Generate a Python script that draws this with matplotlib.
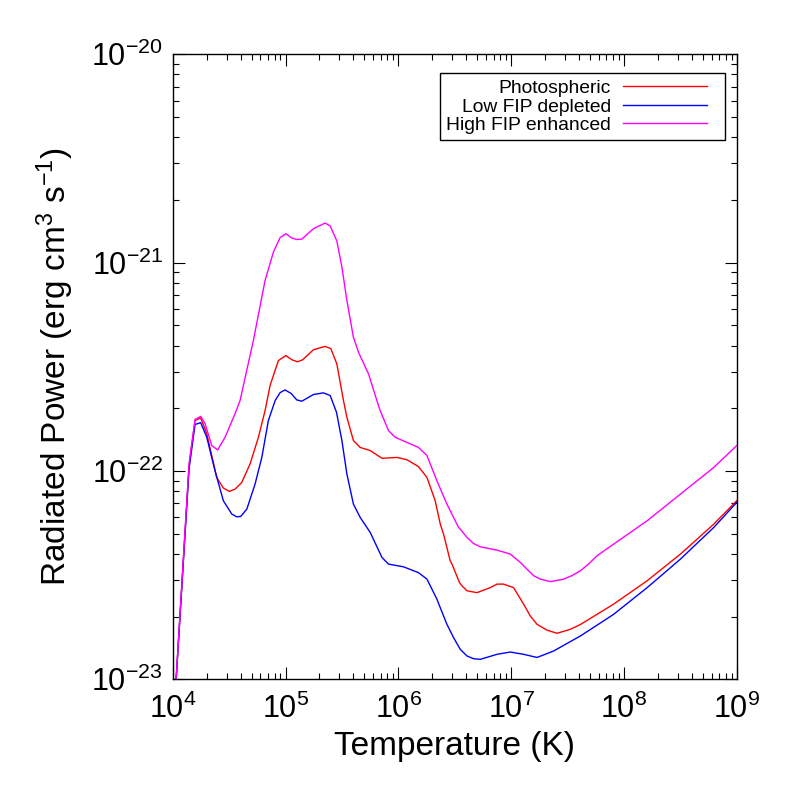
import numpy as np
import matplotlib
matplotlib.use("Agg")
import matplotlib.pyplot as plt
from matplotlib.ticker import FixedLocator, LogLocator, NullFormatter
from matplotlib.legend_handler import HandlerLine2D

plt.rcParams['font.family'] = ['Liberation Sans', 'DejaVu Sans']
plt.rcParams['mathtext.fontset'] = 'custom'
plt.rcParams['mathtext.rm'] = 'Liberation Sans'
plt.rcParams['mathtext.it'] = 'Liberation Sans:italic'
plt.rcParams['mathtext.bf'] = 'Liberation Sans:bold'

# log10 temperature / log10 radiated power
logT_phot = [4.00, 4.145, 4.198, 4.248, 4.302, 4.390, 4.449, 4.502, 4.553, 4.612, 4.686, 4.760, 4.819, 4.863,
             4.937, 5.003, 5.056, 5.106, 5.153, 5.248, 5.351, 5.402, 5.455, 5.514, 5.544, 5.602, 5.662, 5.751,
             5.855, 5.988, 6.076, 6.179, 6.254, 6.327, 6.372, 6.401, 6.460, 6.476, 6.543, 6.564, 6.609, 6.697,
             6.815, 6.875, 6.933, 7.022, 7.111, 7.170, 7.230, 7.318, 7.407, 7.525, 7.614, 7.762, 7.909, 8.206,
             8.501, 8.797, 9.00]
logP_phot = [-23.27, -21.974, -21.758, -21.745, -21.821, -22.031, -22.082, -22.098, -22.087, -22.055, -21.966,
             -21.838, -21.710, -21.590, -21.470, -21.446, -21.466, -21.476, -21.466, -21.418, -21.402, -21.413,
             -21.486, -21.662, -21.742, -21.854, -21.887, -21.902, -21.939, -21.935, -21.946, -21.979, -22.031,
             -22.143, -22.255, -22.303, -22.431, -22.447, -22.536, -22.551, -22.575, -22.584, -22.560, -22.543,
             -22.543, -22.560, -22.639, -22.696, -22.736, -22.764, -22.779, -22.760, -22.737, -22.688, -22.639,
             -22.527, -22.399, -22.255, -22.143]

logT_low = [4.00, 4.145, 4.198, 4.248, 4.302, 4.375, 4.449, 4.524, 4.568, 4.603, 4.657, 4.730, 4.790, 4.848,
            4.908, 4.952, 4.996, 5.050, 5.100, 5.145, 5.248, 5.336, 5.396, 5.452, 5.500, 5.544, 5.602, 5.662,
            5.751, 5.855, 5.913, 6.046, 6.179, 6.254, 6.342, 6.372, 6.431, 6.490, 6.549, 6.609, 6.667, 6.727,
            6.875, 6.993, 7.111, 7.230, 7.377, 7.614, 7.762, 7.909, 8.206, 8.501, 8.797, 9.00]
logP_low = [-23.27, -21.989, -21.777, -21.768, -21.838, -21.999, -22.143, -22.207, -22.220, -22.218, -22.183,
            -22.063, -21.935, -21.758, -21.662, -21.624, -21.611, -21.628, -21.659, -21.665, -21.633, -21.625,
            -21.638, -21.718, -21.854, -22.014, -22.159, -22.223, -22.295, -22.415, -22.447, -22.460, -22.488,
            -22.519, -22.615, -22.656, -22.736, -22.800, -22.856, -22.888, -22.901, -22.904, -22.880, -22.869,
            -22.880, -22.895, -22.864, -22.792, -22.740, -22.688, -22.560, -22.423, -22.271, -22.151]

logT_high = [4.00, 4.145, 4.198, 4.248, 4.287, 4.346, 4.399, 4.464, 4.553, 4.597, 4.715, 4.819, 4.893, 4.952,
             5.003, 5.056, 5.100, 5.145, 5.248, 5.351, 5.396, 5.455, 5.500, 5.544, 5.602, 5.647, 5.736, 5.810,
             5.839, 5.913, 5.972, 6.076, 6.179, 6.254, 6.342, 6.431, 6.534, 6.549, 6.609, 6.667, 6.727, 6.875,
             6.993, 7.082, 7.141, 7.200, 7.259, 7.348, 7.466, 7.540, 7.614, 7.690, 7.762, 7.909, 8.206, 8.501,
             8.797, 9.00]
logP_high = [-23.27, -21.965, -21.753, -21.738, -21.773, -21.878, -21.899, -21.838, -21.725, -21.662, -21.374,
             -21.085, -20.949, -20.880, -20.861, -20.882, -20.889, -20.887, -20.837, -20.810, -20.824, -20.896,
             -21.021, -21.181, -21.358, -21.430, -21.534, -21.662, -21.710, -21.806, -21.838, -21.863, -21.887,
             -21.926, -22.047, -22.159, -22.271, -22.279, -22.319, -22.348, -22.364, -22.380, -22.399, -22.439,
             -22.471, -22.503, -22.519, -22.531, -22.519, -22.502, -22.479, -22.445, -22.407, -22.351, -22.239,
             -22.111, -21.983, -21.878]

labels = ["Photospheric", "Low FIP depleted", "High FIP enhanced"]
colors = ["#ff0000", "#0000ff", "#ff00ff"]
xticks = [1e4, 1e5, 1e6, 1e7, 1e8, 1e9]
yticks = [1e-23, 1e-22, 1e-21, 1e-20]


class ShortLine(HandlerLine2D):
    def get_xdata(self, legend, xdescent, ydescent, width, height, fontsize):
        x0 = -xdescent
        return np.array([x0, x0 + 0.884 * width]), np.array([x0 + 0.44 * width])


fig = plt.figure(figsize=(7.89, 7.89), dpi=100)
ax = fig.add_axes([0.2189, 0.139, 0.7148, 0.7922])

series = [(logT_phot, logP_phot), (logT_low, logP_low), (logT_high, logP_high)]
for (lt, lp), lab, c in zip(series, labels, colors):
    ax.plot(10 ** np.array(lt), 10 ** np.array(lp), color=c, lw=1.0, label=lab)

ax.set_xscale('log')
ax.set_yscale('log')
ax.set_xlim(1e4, 1e9)
ax.set_ylim(1e-23, 1e-20)

ax.xaxis.set_major_locator(FixedLocator(xticks))
ax.yaxis.set_major_locator(FixedLocator(yticks))
ax.xaxis.set_minor_locator(LogLocator(base=10, subs=np.arange(2, 10), numticks=50))
ax.yaxis.set_minor_locator(LogLocator(base=10, subs=np.arange(2, 10), numticks=50))
ax.set_xticklabels([r"$10^{%d}$" % int(round(np.log10(v))) for v in xticks])
ax.set_yticklabels([r"$10^{%d}$" % int(round(np.log10(v))) for v in yticks])
ax.xaxis.set_minor_formatter(NullFormatter())
ax.yaxis.set_minor_formatter(NullFormatter())

ax.tick_params(which='both', direction='in', top=True, right=True, width=0.8, colors='black')
ax.tick_params(which='major', length=8.3, labelsize=22)
ax.tick_params(which='minor', length=4.1)
ax.tick_params(axis='x', which='major', pad=10)
ax.tick_params(axis='y', which='major', pad=7)
for s in ax.spines.values():
    s.set_linewidth(1.0)

ax.set_xlabel("Temperature (K)", fontsize=24)
ax.set_ylabel(r"Radiated Power (erg cm$^{3}$ s$^{-1}$)", fontsize=24)
ax.xaxis.set_label_coords(0.5, -0.083)
ax.yaxis.set_label_coords(-0.171, 0.5)

leg = ax.legend(loc='upper right', bbox_to_anchor=(0.979, 0.9696), borderaxespad=0,
                markerfirst=False, fontsize=13.9, handlelength=4.92, handletextpad=0.65,
                labelspacing=0.05, borderpad=0.33, fancybox=False, framealpha=1, edgecolor='black',
                handler_map={plt.Line2D: ShortLine()})
leg.get_frame().set_linewidth(1.0)

fig.savefig("out.png", dpi=100)
